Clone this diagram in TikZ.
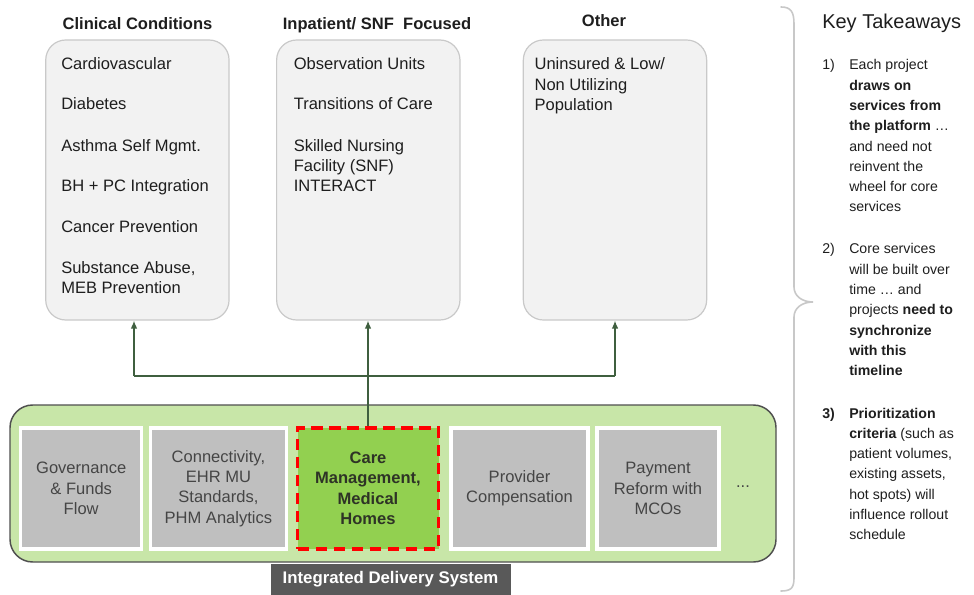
\documentclass[tikz,border=0pt]{standalone}
\usepackage{fontspec}
\setmainfont{Liberation Sans}
\usetikzlibrary{arrows.meta,calc}

\definecolor{panelfill}{HTML}{F2F2F2}
\definecolor{paneledge}{HTML}{C9C9C9}
\definecolor{platfill}{HTML}{C8E6A8}
\definecolor{platedge}{HTML}{4F4F4F}
\definecolor{svcfill}{HTML}{BFBFBF}
\definecolor{svctext}{HTML}{454545}
\definecolor{carefill}{HTML}{92D050}
\definecolor{caretext}{HTML}{2E3326}
\definecolor{linkgreen}{HTML}{3F5F3F}
\definecolor{tagfill}{HTML}{595959}
\definecolor{bracegray}{HTML}{C8C8C8}
\definecolor{inktext}{HTML}{1E1E1E}

% stacked left-aligned lines whose baseline is that of the first line
\newcommand{\toplines}[1]{\begin{tabular}[t]{@{}l@{}}#1\end{tabular}}

\tikzset{
  panel/.style={draw=paneledge, fill=panelfill, line width=0.9pt,
    rounded corners=15pt, inner sep=0pt, minimum width=137.5pt, minimum height=210pt},
  head/.style={anchor=base, inner sep=0pt, text=inktext,
    font=\fontsize{12.4}{15}\selectfont\bfseries},
  entry/.style={anchor=base west, inner sep=0pt, text=inktext,
    font=\fontsize{12.4}{15.2}\selectfont},
  platform/.style={draw=platedge, fill=platfill, line width=1.1pt,
    rounded corners=17pt, inner sep=0pt},
  svc/.style={draw=white, fill=svcfill, line width=2.3pt, inner sep=0pt,
    minimum height=90.75pt, align=center, text=svctext,
    font=\fontsize{12.4}{15.3}\selectfont},
  focus/.style={draw=red, fill=carefill, line width=2.4pt,
    dash pattern=on 8.5pt off 5pt, inner sep=0pt, minimum height=90.75pt,
    align=center, text=caretext, font=\fontsize{12.4}{15.3}\selectfont\bfseries},
  tag/.style={fill=tagfill, text=white, inner sep=0pt,
    font=\fontsize{12.6}{15}\selectfont\bfseries},
  link/.style={draw=linkgreen, line width=1.1pt},
  tip/.style={-{Latex[length=6pt,width=5pt]}},
  takehead/.style={anchor=base west, inner sep=0pt, text=inktext,
    font=\fontsize{15}{18}\selectfont},
  takenum/.style={anchor=base west, inner sep=0pt, text=inktext,
    font=\fontsize{10.6}{15.2}\selectfont},
  taketext/.style={anchor=base west, inner sep=0pt, text=inktext,
    font=\fontsize{10.6}{15.2}\selectfont},
}

\begin{document}
\begin{tikzpicture}[x=0.75pt, y=-0.75pt]
\useasboundingbox (0,0) rectangle (974,595);

% ---- project columns ----
\node[head] (h-clin)  at (137.5,29.3) {Clinical Conditions};
\node[head] (h-inpat) at (377,29.3) {Inpatient/ SNF\ \ Focused};
\node[head] (h-other) at (604,26.7) {Other};

\node[panel] (clin)  at (137.4,180) {};
\node[panel] (inpat) at (368.3,180) {};
\node[panel] (other) at (615,180) {};

\node[entry] (c1) at (61,69.5)  {Cardiovascular};
\node[entry] (c2) at (61,110)   {Diabetes};
\node[entry] (c3) at (61,151.2) {Asthma Self Mgmt.};
\node[entry] (c4) at (61,191.8) {BH + PC Integration};
\node[entry] (c5) at (61,232.4) {Cancer Prevention};
\node[entry] (c6) at (61,273.2) {\toplines{Substance Abuse,\\MEB Prevention}};

\node[entry] (i1) at (293.5,69.5)  {Observation Units};
\node[entry] (i2) at (293.5,110)   {Transitions of Care};
\node[entry] (i3) at (293.5,151.2) {\toplines{Skilled Nursing\\Facility (SNF)\\INTERACT}};

\node[entry] (o1) at (534.3,70) {\toplines{Uninsured \& Low/\\Non Utilizing\\Population}};

% ---- platform ----
\node[platform, minimum width=574.5pt, minimum height=117.75pt] (platform) at (393,483.5) {};

\node[svc, minimum width=90.75pt]  (gov)  at (81.2,488.5)  {Governance\\\& Funds\\Flow};
\node[svc, minimum width=101.5pt]  (conn) at (218.4,488.5) {Connectivity,\\EHR MU\\Standards,\\PHM Analytics};
\node[focus, minimum width=105.75pt] (care) at (368,488.5) {Care\\Management,\\Medical\\Homes};
\node[svc, minimum width=102.75pt] (comp) at (519.5,488.5) {Provider\\Compensation};
\node[svc, minimum width=91.5pt]   (pay)  at (658,488.5)   {Payment\\Reform with\\MCOs};
\node[text=svctext, font=\fontsize{12.4}{15}\selectfont, inner sep=0pt] (more) at (743,487) {...};

\node[tag, minimum width=180pt, minimum height=23.25pt] (ids) at (390.5,579.5) {Integrated Delivery System};

% ---- connectors ----
\coordinate (hy) at (0,376);
\coordinate (lj) at (134,376);
\coordinate (hub) at (care.north |- hy);
\coordinate (rj) at (other.south |- hy);

\draw[link, line width=1.9pt] (care.north) -- (hub);
\draw[link] (lj) -- (rj);
\draw[link, tip] (lj) -- (lj |- clin.south);
\draw[link, tip] (hub) -- (hub |- inpat.south);
\draw[link, tip] (rj) -- (other.south);

% ---- brace ----
\draw[bracegray, line width=1.2pt, line cap=round]
  (781,7) .. controls (791,7) and (794,12) .. (794,24)
  -- (794,287) .. controls (794,296) and (802,302) .. (813,302)
  .. controls (802,302) and (794,308) .. (794,317)
  -- (794,578) .. controls (794,588) and (791,591) .. (781,591);

% ---- key takeaways ----
\node[takehead] (kt) at (822,28.3) {Key Takeaways};

\node[takenum] (n1) at (822,70) {1)};
\node[taketext] (t1) at (849,70) {\toplines{Each project\\\textbf{draws on}\\\textbf{services from}\\\textbf{the platform} \dots\\and need not\\reinvent the\\wheel for core\\services}};

\node[takenum] (n2) at (822,254) {2)};
\node[taketext] (t2) at (849,254) {\toplines{Core services\\will be built over\\time \dots\ and\\projects \textbf{need to}\\\textbf{synchronize}\\\textbf{with this}\\\textbf{timeline}}};

\node[takenum] (n3) at (822,418) {\textbf{3)}};
\node[taketext] (t3) at (849,418) {\toplines{\textbf{Prioritization}\\\textbf{criteria} (such as\\patient volumes,\\existing assets,\\hot spots) will\\influence rollout\\schedule}};

\end{tikzpicture}
\end{document}
